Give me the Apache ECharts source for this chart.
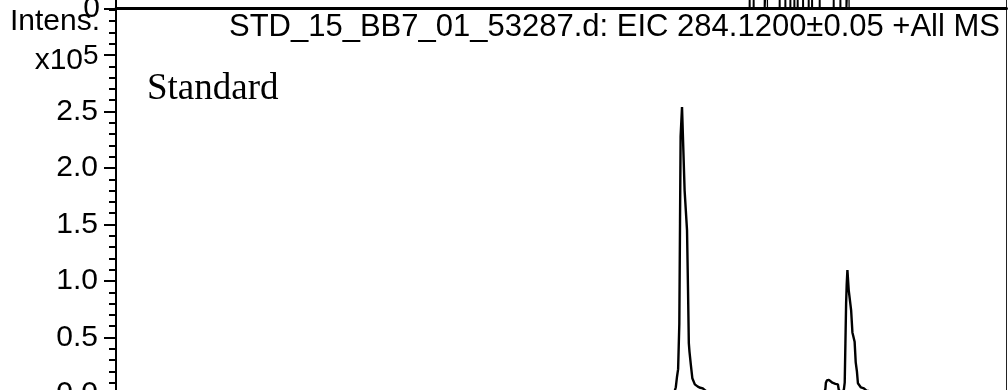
<!DOCTYPE html>
<html>
<head>
<meta charset="utf-8">
<script src="https://cdn.jsdelivr.net/npm/echarts@6/dist/echarts.min.js"></script>
<style>
  html, body { margin: 0; padding: 0; background: #fff; }
  #chart { width: 1008px; height: 390px; }
</style>
</head>
<body>
<div id="chart"></div>
<script>
// EIC 284.1200 trace, retention time in min, intensity in x10^5
const retentionTime = [
  0.0, 0.4, 0.8, 1.2, 1.6, 2.0, 2.4, 2.8, 3.2, 3.6, 4.0, 4.4, 4.8, 5.2, 5.5,
  5.56, 5.585, 5.595, 5.607, 5.618, 5.63, 5.637, 5.643, 5.657, 5.683, 5.707, 5.717,
  5.725, 5.732, 5.745, 5.76, 5.785, 5.815, 5.84, 5.865, 5.89, 5.91,
  5.94, 5.98, 6.01, 6.04, 6.08, 6.12, 6.19, 6.29, 6.36, 6.42, 6.46, 6.50, 6.54,
  6.57, 6.64, 6.71, 6.76, 6.81, 6.89, 6.98, 7.05, 7.08,
  7.09, 7.095, 7.105, 7.125, 7.14, 7.16, 7.19, 7.215, 7.223, 7.24,
  7.26, 7.275, 7.283, 7.29, 7.297, 7.303, 7.31, 7.323, 7.347, 7.36, 7.382,
  7.393, 7.405, 7.415, 7.445, 7.475, 7.50,
  7.53, 7.56, 7.60, 7.64, 7.67, 7.71, 7.75, 7.80, 7.83, 7.89, 7.97, 8.01, 8.05,
  8.09, 8.16, 8.34, 8.54, 8.74, 8.90
];
const intensity = [
  0.015, 0.012, 0.018, 0.010, 0.016, 0.012, 0.020, 0.014, 0.010, 0.017, 0.013, 0.019, 0.012, 0.016, 0.014,
  0.015, 0.030, 0.060, 0.153, 0.220, 0.620, 1.510, 2.280, 2.540, 1.800, 1.450, 0.920,
  0.450, 0.370, 0.260, 0.140, 0.085, 0.065, 0.055, 0.050, 0.030, 0.020,
  0.018, 0.025, 0.016, 0.025, 0.014, 0.025, 0.010, 0.014, 0.013, 0.025, 0.020, 0.025, 0.014,
  0.025, 0.012, 0.025, 0.014, 0.025, 0.012, 0.016, 0.010, 0.016,
  0.045, 0.100, 0.120, 0.125, 0.110, 0.100, 0.090, 0.085, 0.040, 0.015,
  0.015, 0.040, 0.100, 0.450, 0.800, 0.970, 1.097, 0.920, 0.743, 0.545, 0.463,
  0.280, 0.200, 0.095, 0.058, 0.050, 0.030,
  0.025, 0.018, 0.025, 0.020, 0.025, 0.020, 0.013, 0.025, 0.023, 0.012, 0.025, 0.020, 0.025,
  0.020, 0.010, 0.010, 0.013, 0.009, 0.011
];

// bottom of the panel above (its noise crossing the baseline)
const upperTimes = [
  6.0, 6.329, 6.333, 6.337, 6.369, 6.373, 6.377, 6.479, 6.483, 6.487, 6.503, 6.507, 6.511,
  6.629, 6.633, 6.637, 6.686, 6.69, 6.694, 6.736, 6.74, 6.744, 6.776, 6.78, 6.784,
  6.809, 6.813, 6.817, 6.863, 6.867, 6.871, 6.919, 6.923, 6.927, 6.953, 6.957, 6.961,
  7.029, 7.033, 7.037, 7.169, 7.173, 7.177, 7.236, 7.24, 7.244, 7.296, 7.30, 7.304,
  7.319, 7.323, 7.327, 7.5
];
const upperTrace = [
  0, 0, 1, 0, 0, 1, 0, 0, 1, 0, 0, 1, 0,
  0, 1, 0, 0, 1, 0, 0, 1, 0, 0, 1, 0,
  0, 1, 0, 0, 1, 0, 0, 1, 0, 0, 1, 0,
  0, 1, 0, 0, 1, 0, 0, 1, 0, 0, 1, 0,
  0, 1, 0, 0
];

const titleText = 'STD_15_BB7_01_53287.d: EIC 284.1200\u00b10.05 +All MS';
const sampleLabel = 'Standard';

const sans = '"Liberation Sans", Arial, sans-serif';
const serif = '"Liberation Serif", "Times New Roman", serif';

const chart = echarts.init(document.getElementById('chart'), null, { renderer: 'canvas' });

const frameAxis = (gridIndex) => ({
  gridIndex: gridIndex,
  type: 'value',
  position: 'right',
  min: 0,
  max: 1,
  axisLine: { show: true, onZero: false, lineStyle: { color: '#222', width: 1 } },
  axisTick: { show: false },
  axisLabel: { show: false },
  splitLine: { show: false }
});

const option = {
  animation: false,
  backgroundColor: '#fff',
  grid: [
    { left: 116, right: 1.5, top: -1.5, bottom: -4, outerBoundsMode: 'none', containLabel: false },
    { left: 116, right: 1.5, top: -40, bottom: 381.5, outerBoundsMode: 'none', containLabel: false }
  ],
  xAxis: [
    { gridIndex: 0, type: 'value', min: 0, max: 8.9, show: false },
    {
      gridIndex: 1, type: 'value', min: 0, max: 8.9,
      axisLine: { show: true, onZero: false, lineStyle: { color: '#000', width: 3 } },
      axisTick: { show: false },
      axisLabel: { show: false },
      splitLine: { show: false }
    }
  ],
  yAxis: [
    {
      gridIndex: 0,
      type: 'value',
      min: 0,
      max: 3.5,
      interval: 0.5,
      axisLine: { show: true, onZero: false, lineStyle: { color: '#000', width: 2 } },
      axisTick: { show: true, inside: false, length: 12, lineStyle: { color: '#000', width: 2 } },
      minorTick: { show: true, splitNumber: 5, length: 7, lineStyle: { color: '#000', width: 2 } },
      axisLabel: {
        margin: 18,
        color: '#000',
        fontSize: 30,
        fontFamily: sans,
        formatter: (v) => (v >= 3 ? '' : v.toFixed(1))
      },
      splitLine: { show: false }
    },
    frameAxis(0),
    {
      gridIndex: 1,
      type: 'value',
      min: 0,
      max: 1,
      interval: 1,
      axisLine: { show: true, onZero: false, lineStyle: { color: '#000', width: 2 } },
      axisTick: { show: true, inside: false, length: 12, lineStyle: { color: '#000', width: 2 } },
      axisLabel: {
        margin: 16,
        color: '#000',
        fontSize: 30,
        fontFamily: sans,
        padding: [0, 0, 7, 0],
        formatter: (v) => (v === 0 ? '0' : '')
      },
      splitLine: { show: false }
    },
    frameAxis(1)
  ],
  series: [
    {
      type: 'line',
      xAxisIndex: 0,
      yAxisIndex: 0,
      data: retentionTime.map((t, i) => [t, intensity[i]]),
      symbol: 'none',
      showSymbol: false,
      clip: true,
      lineStyle: { color: '#000', width: 2.4 }
    },
    {
      type: 'line',
      xAxisIndex: 1,
      yAxisIndex: 2,
      data: upperTimes.map((t, i) => [t, upperTrace[i]]),
      symbol: 'none',
      showSymbol: false,
      clip: true,
      lineStyle: { color: '#000', width: 1.3 }
    }
  ],
  graphic: [
    {
      type: 'text', x: 10, y: 22, silent: true,
      style: { text: 'Intens.', font: '30px ' + sans, fill: '#000', align: 'left', verticalAlign: 'middle', textAlign: 'left', textVerticalAlign: 'middle' }
    },
    {
      type: 'text', x: 83, y: 61, silent: true,
      style: { text: 'x10', font: '30px ' + sans, fill: '#000', align: 'right', verticalAlign: 'middle', textAlign: 'right', textVerticalAlign: 'middle' }
    },
    {
      type: 'text', x: 83, y: 56, silent: true,
      style: { text: '5', font: '28px ' + sans, fill: '#000', align: 'left', verticalAlign: 'middle', textAlign: 'left', textVerticalAlign: 'middle' }
    },
    {
      type: 'text', x: 147, y: 89, silent: true,
      style: { text: sampleLabel, font: '37px ' + serif, fill: '#000', align: 'left', verticalAlign: 'middle', textAlign: 'left', textVerticalAlign: 'middle' }
    },
    {
      type: 'text', x: 1000, y: 27, silent: true,
      style: { text: titleText, font: '31px ' + sans, fill: '#000', align: 'right', verticalAlign: 'middle', textAlign: 'right', textVerticalAlign: 'middle' }
    }
  ]
};

chart.setOption(option);
</script>
</body>
</html>
